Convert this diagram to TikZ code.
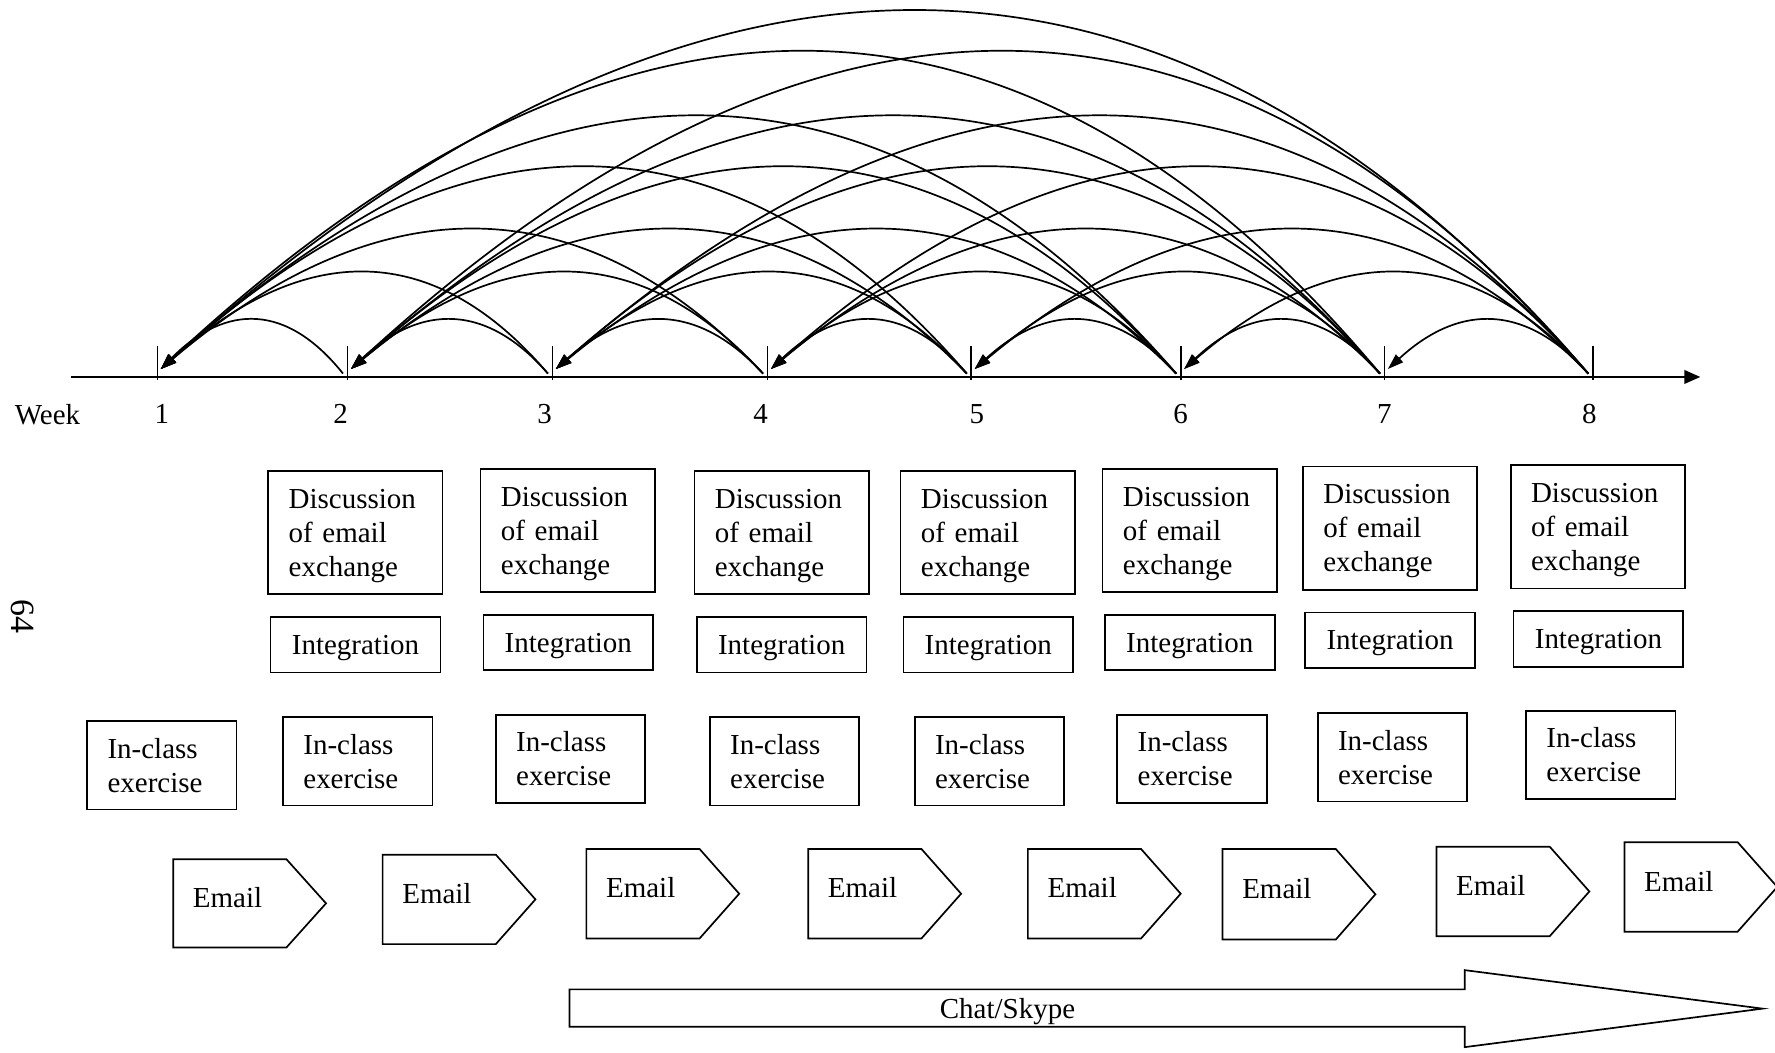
\documentclass[tikz,border=0pt]{standalone}
\usepackage{fontspec}
\setmainfont{Liberation Serif}
\usetikzlibrary{arrows.meta,calc}
\newcommand\emailbox[4]{%
  \draw[box] (#2,#3) -- ({#2+100},#3) -- ({#2+135},{(#3+#4)/2}) -- ({#2+100},#4) -- (#2,#4) -- cycle;
  \node[anchor=west] (#1) at ({#2+17},{(#3+#4)/2-5}) {Email};
}
\begin{document}
\begin{tikzpicture}[x=0.5pt,y=-0.5pt,
  every node/.style={font=\fontsize{12.8}{15}\selectfont, inner sep=0pt},
  box/.style={draw, line width=0.75pt},
  discbox/.style={box, minimum width=77pt, minimum height=54.5pt},
  disctext/.style={text width=59pt, align=left},
  integ/.style={box, minimum width=75pt, minimum height=24.5pt, align=center, text depth=0pt},
  inclass/.style={box, minimum width=66pt, minimum height=39pt, text width=48pt, align=left, inner xsep=9pt, inner ysep=0pt},
  arcline/.style={line width=0.75pt, -{Triangle[length=7pt,width=4.6pt]}},
]
\useasboundingbox (0,0) rectangle (1568,930);

% axis
\coordinate (ax0) at (63,333);
\coordinate (ax1) at (1502,333);
\draw[line width=0.75pt, -{Triangle[length=7pt,width=6pt]}] (ax0) -- (ax1);

\foreach \n/\x in {1/139,2/307,3/488,4/678,5/858,6/1043,7/1223,8/1407} {
  \coordinate (w\n) at (\x,333);
  \draw[line width=0.75pt] ([yshift=13.5pt]w\n) -- ([yshift=-1.5pt]w\n);
}

\node (week) at (42,366) {Week};
\foreach \n/\x in {1/143,2/301,3/481,4/672,5/863,6/1043,7/1223,8/1404} {
  \node (num\n) at (\x,366) {\n};
}

% arcs from each later week back to each earlier week
\def\wx{{0,139,307,488,678,858,1043,1223,1407}}
\def\pk{{0,283,241,203,148,103,46,10}}
\def\sh{{0,3,10,13,21,28,32,39}}
\foreach \i in {1,...,7} {
  \pgfmathtruncatemacro\ii{\i+1}
  \foreach \j in {\ii,...,8} {
    \pgfmathsetmacro\xl{\wx[\i]+3}
    \pgfmathsetmacro\xr{\wx[\j]-4}
    \pgfmathtruncatemacro\kk{\j-\i}
    \pgfmathsetmacro\cy{(8*\pk[\kk]-656)/6}
    \pgfmathsetmacro\dd{\sh[\kk]/0.75}
    \pgfmathsetmacro\ww{\xr-\xl}
    \draw[arcline] ([shift={(-4,-3)}]w\j) .. controls ({\xr-\ww/3+\dd},\cy) and ({\xl+\ww/3+\dd},\cy) .. ([shift={(3,-7)}]w\i);
  }
}

% Discussion boxes
\foreach \n/\x/\y in {1/314/470.5,2/501.5/468.5,3/690.5/470.5,4/872.5/470.5,5/1051/468.5,6/1228/466.5,7/1411.5/465.5} {
  \node[discbox] (d\n) at (\x,\y) {};
  \node[disctext] (dt\n) at ([yshift=-1.5pt]d\n.center) {Discussion\\of email\\exchange};
}
% Integration boxes
\foreach \n/\x/\y in {1/314/569.5,2/502/567.5,3/690.5/569.5,4/873/569.5,5/1051/567.5,6/1228/565.5,7/1412/564.5} {
  \node[integ] (g\n) at (\x,\y) {Integration};
}
% In-class exercise boxes
\foreach \n/\x/\y in {0/143/676,1/316/672.5,2/504/670.5,3/693/672.5,4/874/672.5,5/1053/670.5,6/1230/669,7/1414/667} {
  \node[inclass] (c\n) at (\x,\y) {In-class\\exercise};
}
% Email shapes
\emailbox{e1}{153}{759}{837}
\emailbox{e2}{338}{755}{834}
\emailbox{e3}{518}{750}{829}
\emailbox{e4}{714}{750}{829}
\emailbox{e5}{908}{750}{829}
\emailbox{e6}{1080}{750}{830}
\emailbox{e7}{1269}{748}{827}
\emailbox{e8}{1435}{744}{823}

% Chat/Skype block arrow
\draw[box] (503,874) -- (1294,874) -- (1294,857) -- (1557,891) -- (1294,925) -- (1294,907) -- (503,907) -- cycle;
\node[text depth=0pt] (chat) at (890,891) {Chat/Skype};

\node[rotate=-90, font=\fontsize{15}{18}\selectfont] (pg) at (20,545) {64};
\end{tikzpicture}
\end{document}
